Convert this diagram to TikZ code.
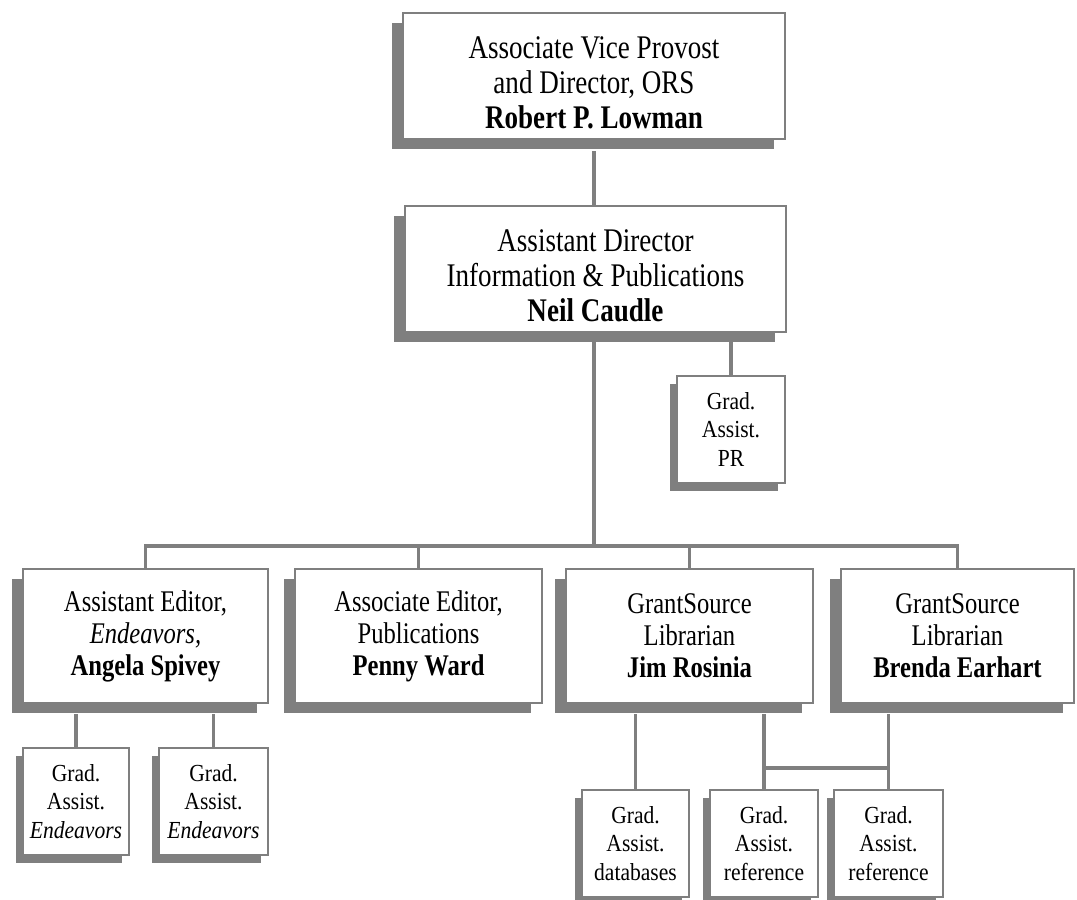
\documentclass[tikz,border=0pt]{standalone}
\usepackage{fontspec}
\setmainfont{Liberation Serif}[FakeStretch=0.88]
\newfontfamily\narrowserif{Liberation Serif}[FakeStretch=0.82]
\usetikzlibrary{shadows}
\definecolor{framegray}{HTML}{7F7F7F}
\definecolor{shadegray}{HTML}{7F7F7F}
% taller first line, so the title text sits a little low in its box
\newcommand{\headstrut}{\rule{0pt}{35pt}}
\begin{document}
\begin{tikzpicture}[x=1pt,y=-1pt,
  boxbase/.style={draw=framegray, line width=2pt, fill=white, align=center, inner sep=0pt},
  bigbox/.style={boxbase,
    font=\narrowserif\fontsize{33}{35}\selectfont,
    drop shadow={shadow xshift=-11pt, shadow yshift=-10pt, fill=shadegray, opacity=1}},
  rowbox/.style={boxbase,
    font=\narrowserif\fontsize{30}{32}\selectfont,
    drop shadow={shadow xshift=-11pt, shadow yshift=-10pt, fill=shadegray, opacity=1}},
  gabox/.style={boxbase, minimum width=107pt, minimum height=107pt,
    font=\fontsize{24.5}{28.5}\selectfont,
    drop shadow={shadow xshift=-7pt, shadow yshift=-8pt, fill=shadegray, opacity=1}},
  link/.style={draw=framegray, line width=3.2pt}]
\useasboundingbox (0,0) rectangle (1077,900);

% director level
\node[bigbox, minimum width=382pt, minimum height=126pt] (vp) at (594,76)
  {\headstrut Associate Vice Provost\\and Director, ORS\\\textbf{Robert P. Lowman}};
\node[bigbox, minimum width=381pt, minimum height=126pt] (ad) at (595.5,269)
  {\headstrut Assistant Director\\Information \& Publications\\\textbf{Neil Caudle}};
\node[gabox, minimum width=108pt] (pr) at (731,429) {Grad.\\Assist.\\PR};

% staff row
\node[rowbox, minimum width=245pt, minimum height=134pt] (ae) at (145.5,636)
  {Assistant Editor,\\\textit{Endeavors,}\\\textbf{Angela Spivey}};
\node[rowbox, minimum width=247pt, minimum height=134pt] (pw) at (418.5,636)
  {Associate Editor,\\Publications\\\textbf{Penny Ward}};
\node[rowbox, minimum width=247pt, minimum height=134pt] (jr) at (689.5,636)
  {GrantSource\\Librarian\\\textbf{Jim Rosinia}};
\node[rowbox, minimum width=233pt, minimum height=134pt] (be) at (957.5,636)
  {GrantSource\\Librarian\\\textbf{Brenda Earhart}};

% graduate assistants
\node[gabox, minimum width=106pt] (ge1) at (76,801.5) {Grad.\\Assist.\\\textit{Endeavors}};
\node[gabox, minimum width=109pt] (ge2) at (213.5,801.5) {Grad.\\Assist.\\\textit{Endeavors}};
\node[gabox] (gdb) at (635.5,843.5) {Grad.\\Assist.\\databases};
\node[gabox, minimum width=108pt] (gr1) at (764,843.5) {Grad.\\Assist.\\reference};
\node[gabox, minimum width=109pt] (gr2) at (888.5,843.5) {Grad.\\Assist.\\reference};

% junction points
\coordinate (bus) at (594,546);
\coordinate (refbar) at (826,768);

% connectors, each leaving from under the shadow of the upper box
\draw[link] ([yshift=-11pt]vp.south -| bus) -- (ad.north -| bus);
\draw[link] ([yshift=-9pt]ad.south -| bus) -- (bus);
\draw[link] ([yshift=-9pt]ad.south -| pr.north) -- (pr.north);
\draw[link] (ae.north) |- (bus) -| (be.north);
\draw[link] (pw.north) -- (pw.north |- bus);
\draw[link] (jr.north) -- (jr.north |- bus);
\draw[link] ([yshift=-10pt]ae.south -| ge1.north) -- (ge1.north);
\draw[link] ([yshift=-10pt]ae.south -| ge2.north) -- (ge2.north);
\draw[link] ([yshift=-10pt]jr.south -| gdb.north) -- (gdb.north);
\draw[link] ([yshift=-10pt]jr.south -| gr1.north) -- (gr1.north);
\draw[link] ([yshift=-10pt]be.south -| gr2.north) -- (gr2.north);
\draw[link] (refbar -| gr1.north) -- (refbar -| gr2.north);
\end{tikzpicture}
\end{document}
